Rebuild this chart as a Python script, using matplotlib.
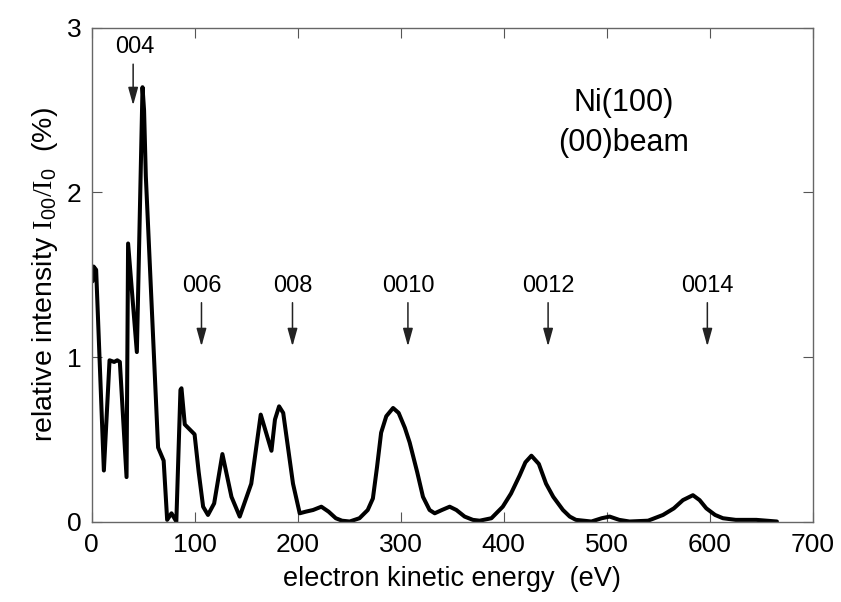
import matplotlib
matplotlib.use("Agg")
import matplotlib.pyplot as plt

energy = [1, 2, 4.5, 12, 17.5, 22, 25, 27.5, 34, 35.5, 44, 49.5, 51, 52.7, 64.6, 70, 73.4, 77.6, 82.3,
          86.3, 87.3, 90.5, 100, 104, 108.3, 113, 119, 127, 135.8, 143.8, 155, 164.2, 174.6, 178, 182, 186,
          195.5, 202, 208, 215, 223, 230, 237, 243, 250.5, 260, 268, 273, 277, 281, 286, 292.6, 298, 304,
          308.7, 316, 321.6, 328, 333, 340, 347.5, 354, 362, 370, 376.6, 388, 399, 407, 415.4, 421,
          426.8, 434, 441, 448, 457.4, 464, 470, 485, 495, 502.7, 512, 522, 540, 554.5, 565, 573.8,
          583.5, 590, 596.5, 605, 612.6, 625, 645, 665]
intensity = [1.46, 1.55, 1.53, 0.31, 0.98, 0.97, 0.98, 0.97, 0.27, 1.69, 1.03, 2.64, 2.5, 2.1, 0.45, 0.37, 0.01, 0.05, 0.0,
             0.80, 0.81, 0.59, 0.53, 0.30, 0.09, 0.04, 0.11, 0.41, 0.15, 0.03, 0.23, 0.65, 0.43, 0.62, 0.70, 0.66,
             0.23, 0.05, 0.06, 0.07, 0.09, 0.06, 0.02, 0.005, 0.0, 0.02, 0.07, 0.14, 0.33, 0.54, 0.64, 0.69, 0.66, 0.57,
             0.48, 0.30, 0.15, 0.07, 0.05, 0.07, 0.09, 0.07, 0.03, 0.01, 0.005, 0.02, 0.09, 0.17, 0.28, 0.36,
             0.40, 0.35, 0.23, 0.15, 0.07, 0.03, 0.01, 0.0, 0.02, 0.03, 0.01, 0.0, 0.005, 0.04, 0.08, 0.13,
             0.16, 0.13, 0.08, 0.04, 0.02, 0.01, 0.01, 0.0]

peak_labels = ["004", "006", "008", "0010", "0012", "0014"]
peak_energy = [40.4, 106.7, 195, 307, 443, 597.5]
arrow_top = [2.78, 1.33, 1.33, 1.33, 1.33, 1.33]
arrow_tip = [2.53, 1.065, 1.065, 1.065, 1.065, 1.065]

plt.rcParams['font.family'] = ['Liberation Sans', 'DejaVu Sans']
plt.rcParams['mathtext.fontset'] = 'custom'
plt.rcParams['mathtext.rm'] = 'Liberation Serif'
plt.rcParams['mathtext.sf'] = 'Liberation Sans'

fig = plt.figure(figsize=(8.41, 6.02), dpi=100)
ax = fig.add_axes([0.1088, 0.1337, 0.8579, 0.8198])

ax.plot(energy, intensity, color='black', lw=2.9, solid_joinstyle='round', solid_capstyle='round')

for lab, e, t, tip in zip(peak_labels, peak_energy, arrow_top, arrow_tip):
    ax.annotate('', xy=(e, tip), xytext=(e, t),
                arrowprops=dict(arrowstyle='-|>,head_length=0.9,head_width=0.25', color='#222222', lw=1.1,
                                mutation_scale=12, shrinkA=0, shrinkB=0))
    ax.text(e + (1.5 if lab == "004" else 0), t + 0.035, lab, ha='center', va='bottom', fontsize=17)

ax.text(516, 2.545, "Ni(100)", ha='center', va='center', fontsize=22)
ax.text(516, 2.30, "(00)beam", ha='center', va='center', fontsize=22)

ax.set_xlim(0, 700)
ax.set_ylim(0, 3)
ax.set_xticks(range(0, 701, 100))
ax.set_yticks([0, 1, 2, 3])
ax.tick_params(direction='in', top=True, right=True, length=7, width=0.8, color='#555555',
               labelsize=19)
ax.tick_params(axis='x', pad=8)
ax.tick_params(axis='y', pad=7)
for s in ax.spines.values():
    s.set_color('#666666')
    s.set_linewidth(1.0)

ax.set_xlabel("electron kinetic energy  (eV)", fontsize=19.5, labelpad=7)
ax.set_ylabel(r"relative intensity $\mathrm{I}_{\mathsf{00}}/\mathrm{I}_{\mathsf{0}}$  (%)",
              fontsize=20.5, labelpad=5)

fig.savefig("out.png", dpi=100)
